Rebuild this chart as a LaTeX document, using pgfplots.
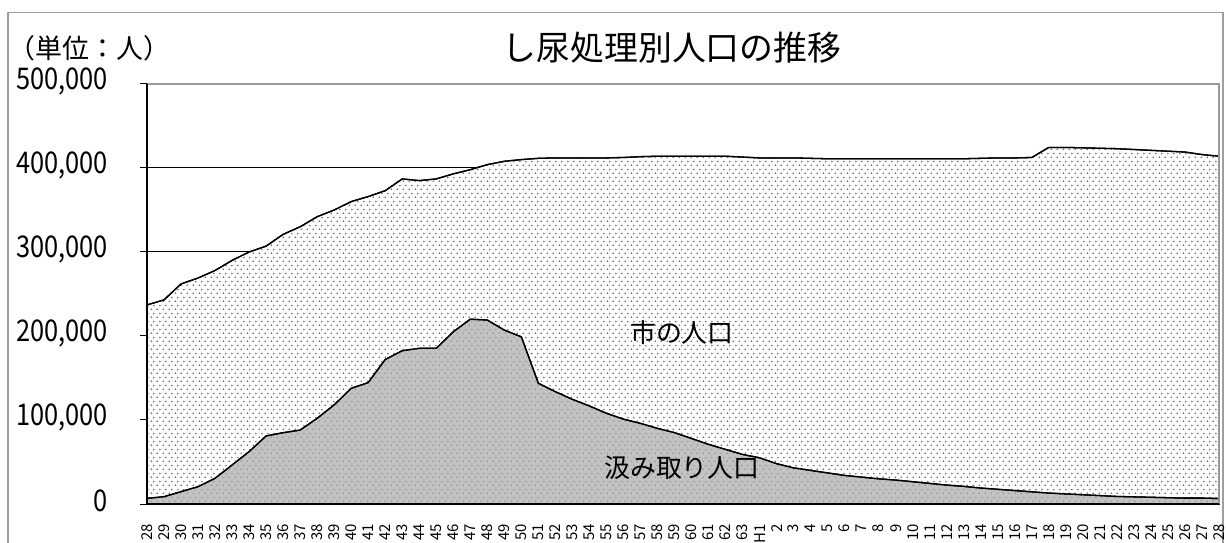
\documentclass[border=0pt]{standalone}
\usepackage{fontspec}
\setmainfont{Noto Sans CJK JP}
\newfontfamily\numfont[FakeStretch=0.85]{Noto Sans CJK JP}
\usepackage{pgfplots}
\pgfplotsset{compat=1.18}
\usepackage{pgfplotstable}
\usetikzlibrary{patterns.meta}

\pgfdeclarepattern{
  name=citydots,
  type=uncolored,
  bottom left={\pgfpoint{0bp}{0bp}},
  top right={\pgfpoint{6bp}{8bp}},
  tile size={\pgfpoint{6bp}{8bp}},
  code={
    \pgfpathcircle{\pgfpoint{1.5bp}{2bp}}{0.95bp}
    \pgfpathcircle{\pgfpoint{4.5bp}{6bp}}{0.95bp}
    \pgfusepath{fill}
  }
}

\pgfplotstableread{
i city gray
0 237000 6700
1 243000 8700
2 262000 14700
3 269000 20600
4 278000 30600
5 290000 46400
6 300000 62300
7 307000 81000
8 321000 84900
9 330000 88000
10 342000 102000
11 350000 118000
12 360000 137700
13 366000 144500
14 373000 172000
15 387000 182500
16 385000 185300
17 387000 185300
18 393000 205000
19 398000 220000
20 404000 219000
21 408000 207000
22 410000 199000
23 411500 143700
24 412000 133700
25 412000 124600
26 412000 116700
27 412000 108000
28 412500 101000
29 413500 96000
30 414000 90000
31 414000 85000
32 414000 78000
33 414000 71000
34 414000 65000
35 413000 59000
36 412000 55000
37 412000 48000
38 412000 43000
39 411500 40000
40 411000 37000
41 411000 34000
42 411000 32000
43 411000 30000
44 411000 28500
45 411000 26500
46 411000 24500
47 411000 22500
48 411000 21000
49 411500 19000
50 412000 17500
51 412000 16000
52 412500 14500
53 424500 13000
54 424500 12000
55 424000 11000
56 423500 10000
57 423000 9000
58 422000 8500
59 421000 8000
60 420000 7500
61 419000 7000
62 416000 7000
63 414000 6500
}\data

\begin{document}
\begin{tikzpicture}
\useasboundingbox (0,0) rectangle (1226bp,543bp);
\draw[gray!75, line width=1.2bp] (8bp,-20bp) -- (8bp,530.5bp) -- (1223bp,530.5bp) -- (1223bp,-20bp);
\node[anchor=west, font=\fontsize{27}{27}\selectfont] at (5bp,495bp) {（単位：人）};
\node[font=\fontsize{34}{36}\selectfont] at (672bp,495bp) {し尿処理別人口の推移};
\begin{axis}[
  at={(147bp,39bp)}, anchor=south west,
  scale only axis, width=1072bp, height=420bp,
  xmin=0, xmax=63, ymin=0, ymax=500000,
  axis line style={draw=none},
  xtick={0,...,63},
  xticklabels={28,29,30,31,32,33,34,35,36,37,38,39,40,41,42,43,44,45,46,47,48,49,50,51,52,53,54,55,56,57,58,59,60,61,62,63,H1,2,3,4,5,6,7,8,9,10,11,12,13,14,15,16,17,18,19,20,21,22,23,24,25,26,27,28},
  xtick pos=bottom, ytick pos=left,
  tick align=inside,
  major tick length=7bp,
  xtick style={black, line width=1bp},
  ytick style={black, line width=1bp, xshift=-7bp},
  ytick={0,100000,200000,300000,400000,500000},
  yticklabels={0,{100,000},{200,000},{300,000},{400,000},{500,000}},
  scaled y ticks=false,
  xticklabel style={rotate=90, anchor=east, inner sep=0pt, font=\fontsize{15}{15}\selectfont},
  yticklabel style={anchor=east, inner sep=0pt, yshift=3bp, font=\numfont\fontsize{30}{30}\selectfont},
  xticklabel shift=20bp,
  yticklabel shift=39bp,
  ymajorgrids,
  major grid style={black, line width=1bp},
  clip=false,
]
\addplot[draw=black, line width=1.3bp, fill=white, postaction={pattern=citydots, pattern color=black!62}] table[x=i,y=city]{\data} \closedcycle;
\addplot[draw=black, line width=1.3bp, fill=black!24, postaction={pattern=citydots, pattern color=black!40}] table[x=i,y=gray]{\data} \closedcycle;
\draw[gray!80, line width=1.2bp] (rel axis cs:0,1) -- (rel axis cs:1,1) -- (rel axis cs:1,0);
\draw[black, line width=2bp] (rel axis cs:0,1) -- (rel axis cs:0,0) -- (rel axis cs:1,0);
\node[font=\fontsize{26}{26}\selectfont] at (axis cs:31.44,203600) {市の人口};
\node[font=\fontsize{26}{26}\selectfont] at (axis cs:31.44,42900) {汲み取り人口};
\end{axis}
\end{tikzpicture}
\end{document}
